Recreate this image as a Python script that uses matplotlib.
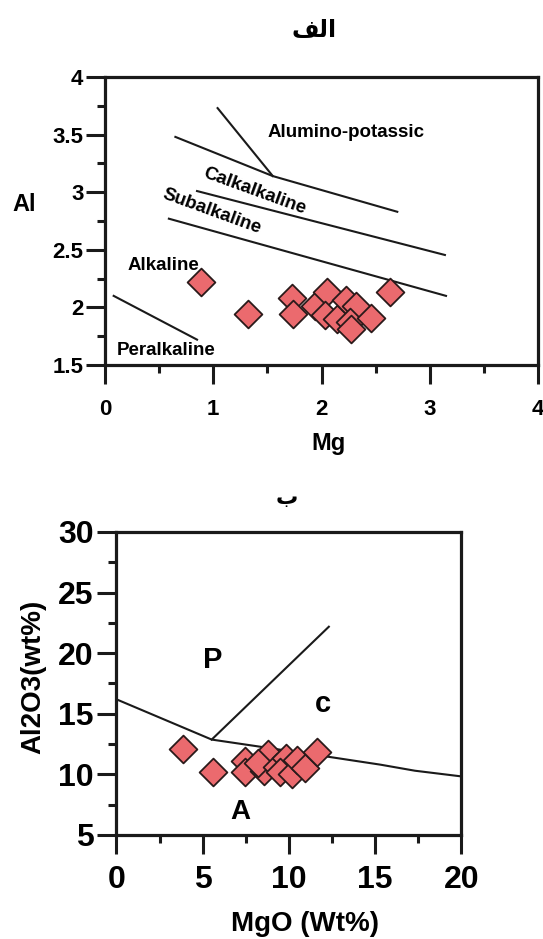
import matplotlib
matplotlib.use("Agg")
import matplotlib.pyplot as plt
from matplotlib.ticker import MultipleLocator

plt.rcParams['font.family'] = ['Liberation Sans', 'DejaVu Sans']
plt.rcParams['font.weight'] = 'bold'

# ---------------- data ----------------
# (a) Al vs Mg
mg_a = [0.89, 1.32, 1.73, 1.74, 1.94, 2.05, 2.03, 2.14, 2.23, 2.32, 2.26, 2.27, 2.46, 2.63]
al_a = [2.22, 1.94, 2.08, 1.94, 2.01, 2.135, 1.93, 1.90, 2.06, 2.01, 1.87, 1.81, 1.91, 2.13]

# boundary lines of panel (a)
line_ak_x = [1.04, 1.55]
line_ak_y = [3.73, 3.14]
line_up_x = [0.65, 1.55, 2.70]
line_up_y = [3.48, 3.14, 2.83]
line_mid_x = [0.85, 3.14]
line_mid_y = [3.01, 2.455]
line_low_x = [0.59, 3.15]
line_low_y = [2.77, 2.10]
line_per_x = [0.08, 0.85]
line_per_y = [2.10, 1.72]

# (b) Al2O3 vs MgO
mgo_b = [3.87, 5.58, 7.45, 7.45, 8.55, 8.80, 8.22, 9.29, 9.83, 9.48, 10.16, 10.45, 10.93, 11.6]
al2o3_b = [12.10, 10.22, 11.11, 10.22, 10.28, 11.66, 10.92, 10.64, 11.33, 10.22, 10.0, 11.19, 10.55, 11.87]

curve_b_x = [0, 5.52, 12.1, 15.3, 17.3, 20]
curve_b_y = [16.19, 12.87, 11.49, 10.8, 10.3, 9.83]
line_pc_x = [5.52, 12.31]
line_pc_y = [12.87, 22.18]

fill = '#EB6A6E'
edge = '#2a1a1a'

fig = plt.figure(figsize=(5.43, 9.39), dpi=100)


def style_axes(ax, labsize, pad_x, pad_y):
    for s in ax.spines.values():
        s.set_linewidth(2.3)
        s.set_color('#1a1a1a')
    ax.tick_params(which='major', direction='out', length=13.5, width=2.2,
                   labelsize=labsize, color='#1a1a1a')
    ax.tick_params(which='minor', direction='out', length=6, width=2.2, color='#1a1a1a')
    ax.tick_params(axis='x', which='major', pad=pad_x)
    ax.tick_params(axis='y', which='major', pad=pad_y)
    for lab in ax.get_xticklabels() + ax.get_yticklabels():
        lab.set_fontweight('bold')


# ---------------- panel (a) ----------------
ax1 = fig.add_axes([0.1934, 0.6113, 0.7974, 0.3067])
ax1.set_xlim(0, 4)
ax1.set_ylim(1.5, 4)
ax1.xaxis.set_major_locator(MultipleLocator(1))
ax1.xaxis.set_minor_locator(MultipleLocator(0.5))
ax1.yaxis.set_major_locator(MultipleLocator(0.5))
ax1.yaxis.set_minor_locator(MultipleLocator(0.25))
ax1.set_yticks([1.5, 2, 2.5, 3, 3.5, 4])
ax1.set_yticklabels(['1.5', '2', '2.5', '3', '3.5', '4'])
style_axes(ax1, 16, 11, 2)

lw = 1.5
for xs, ys in [(line_ak_x, line_ak_y), (line_up_x, line_up_y), (line_mid_x, line_mid_y),
               (line_low_x, line_low_y), (line_per_x, line_per_y)]:
    ax1.plot(xs, ys, color='#1a1a1a', lw=lw)

ax1.scatter(mg_a, al_a, marker='D', s=200, c=fill, edgecolors=edge, linewidths=1.3, zorder=3)

fs_note = 13.5
ax1.text(2.23, 3.52, 'Alumino-potassic', fontsize=fs_note, fontweight='bold', ha='center', va='center')
ax1.text(1.38, 3.01, 'Calkalkaline', fontsize=fs_note, fontweight='bold', ha='center', va='center', rotation=-20)
ax1.text(0.99, 2.83, 'Subalkaline', fontsize=fs_note, fontweight='bold', ha='center', va='center', rotation=-20)
ax1.text(0.54, 2.36, 'Alkaline', fontsize=fs_note, fontweight='bold', ha='center', va='center')
ax1.text(0.56, 1.625, 'Peralkaline', fontsize=fs_note, fontweight='bold', ha='center', va='center')

ax1.set_ylabel('Al', fontsize=17, fontweight='bold', rotation=0, va='center', ha='center')
ax1.yaxis.set_label_coords(-0.187, 0.556)
ax1.set_xlabel('Mg', fontsize=17, fontweight='bold', va='center', ha='center')
ax1.xaxis.set_label_coords(0.517, -0.272)

fig.text(0.578, 0.968, '\ufed2\ufedf\ufe8d', fontsize=17, fontweight='bold',
         ha='center', va='center', family=['DejaVu Sans'])

# ---------------- panel (b) ----------------
ax2 = fig.add_axes([0.2145, 0.1108, 0.6354, 0.3227])
ax2.set_xlim(0, 20)
ax2.set_ylim(5, 30)
ax2.xaxis.set_major_locator(MultipleLocator(5))
ax2.xaxis.set_minor_locator(MultipleLocator(2.5))
ax2.yaxis.set_major_locator(MultipleLocator(5))
ax2.yaxis.set_minor_locator(MultipleLocator(2.5))
style_axes(ax2, 23, 8, 3)

ax2.plot(curve_b_x, curve_b_y, color='#1a1a1a', lw=lw)
ax2.plot(line_pc_x, line_pc_y, color='#1a1a1a', lw=lw)

ax2.scatter(mgo_b, al2o3_b, marker='D', s=200, c=fill, edgecolors=edge, linewidths=1.3, zorder=3)

ax2.text(5.58, 19.4, 'P', fontsize=21, fontweight='bold', ha='center', va='center')
ax2.text(11.95, 15.77, 'c', fontsize=21, fontweight='bold', ha='center', va='center')
ax2.text(7.19, 6.93, 'A', fontsize=20, fontweight='bold', ha='center', va='center')

ax2.set_ylabel('Al2O3(wt%)', fontsize=20, fontweight='bold', va='center', ha='center')
ax2.yaxis.set_label_coords(-0.242, 0.521)
ax2.set_xlabel('MgO (Wt%)', fontsize=20, fontweight='bold', va='center', ha='center')
ax2.xaxis.set_label_coords(0.545, -0.295)

fig.text(0.529, 0.470, '\u0628', fontsize=16, fontweight='bold',
         ha='center', va='center', family=['DejaVu Sans'])

fig.savefig('out.png', dpi=100)
